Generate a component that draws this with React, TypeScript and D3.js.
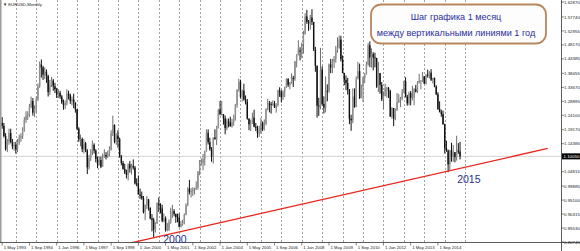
import React from "react";
import * as d3 from "d3";

// ---- DATA (EURUSD, Monthly, May 1993 .. Oct 2015) ----
const startYear = 1993;
const startMonth = 4; // May (0-based)
const firstOpen = 1.215;

const closes = [
  // 1993 May-Dec
  1.205, 1.170, 1.125, 1.150, 1.180, 1.150, 1.135, 1.140,
  // 1994
  1.125, 1.150, 1.165, 1.170, 1.190, 1.225, 1.240, 1.245, 1.270, 1.290, 1.250, 1.262,
  // 1995
  1.295, 1.340, 1.415, 1.405, 1.380, 1.390, 1.375, 1.320, 1.345, 1.360, 1.340, 1.330,
  // 1996
  1.310, 1.318, 1.305, 1.285, 1.275, 1.282, 1.315, 1.310, 1.290, 1.295, 1.285, 1.262,
  // 1997
  1.195, 1.158, 1.160, 1.125, 1.145, 1.120, 1.063, 1.095, 1.117, 1.140, 1.120, 1.092,
  // 1998
  1.075, 1.088, 1.065, 1.098, 1.105, 1.100, 1.108, 1.125, 1.180, 1.208, 1.150, 1.172,
  // 1999
  1.160, 1.100, 1.078, 1.058, 1.045, 1.037, 1.073, 1.059, 1.068, 1.062, 1.008, 1.007,
  // 2000
  0.970, 0.965, 0.957, 0.910, 0.934, 0.953, 0.925, 0.888, 0.883, 0.850, 0.870, 0.940,
  // 2001
  0.935, 0.922, 0.880, 0.888, 0.848, 0.850, 0.875, 0.911, 0.913, 0.903, 0.893, 0.890,
  // 2002
  0.860, 0.869, 0.872, 0.901, 0.933, 0.990, 0.978, 0.982, 0.988, 0.988, 0.993, 1.049,
  // 2003
  1.077, 1.078, 1.091, 1.117, 1.181, 1.149, 1.125, 1.099, 1.165, 1.160, 1.199, 1.260,
  // 2004
  1.245, 1.245, 1.230, 1.197, 1.220, 1.217, 1.203, 1.217, 1.242, 1.276, 1.329, 1.356,
  // 2005
  1.304, 1.325, 1.295, 1.287, 1.230, 1.210, 1.213, 1.233, 1.202, 1.198, 1.179, 1.184,
  // 2006
  1.216, 1.193, 1.212, 1.262, 1.281, 1.279, 1.277, 1.281, 1.268, 1.276, 1.325, 1.320,
  // 2007
  1.303, 1.323, 1.336, 1.365, 1.345, 1.354, 1.369, 1.365, 1.426, 1.449, 1.463, 1.459,
  // 2008
  1.485, 1.518, 1.579, 1.561, 1.555, 1.575, 1.560, 1.467, 1.410, 1.274, 1.271, 1.397,
  // 2009
  1.280, 1.267, 1.325, 1.324, 1.415, 1.405, 1.425, 1.434, 1.464, 1.472, 1.500, 1.433,
  // 2010
  1.386, 1.362, 1.351, 1.329, 1.229, 1.224, 1.305, 1.269, 1.364, 1.392, 1.300, 1.339,
  // 2011
  1.369, 1.380, 1.416, 1.480, 1.439, 1.450, 1.439, 1.437, 1.339, 1.386, 1.345, 1.296,
  // 2012
  1.308, 1.334, 1.334, 1.324, 1.237, 1.266, 1.230, 1.258, 1.286, 1.296, 1.299, 1.319,
  // 2013
  1.358, 1.305, 1.282, 1.317, 1.300, 1.301, 1.330, 1.322, 1.352, 1.359, 1.359, 1.375,
  // 2014
  1.349, 1.380, 1.377, 1.387, 1.363, 1.369, 1.339, 1.313, 1.263, 1.252, 1.245, 1.210,
  // 2015 Jan-Oct
  1.129, 1.120, 1.073, 1.122, 1.099, 1.115, 1.098, 1.121, 1.117, 1.1005,
];

const highs = [
  1.235, 1.215, 1.180, 1.160, 1.195, 1.195, 1.160, 1.150,
  1.150, 1.160, 1.175, 1.180, 1.200, 1.235, 1.255, 1.255, 1.280, 1.305, 1.300, 1.275,
  1.305, 1.350, 1.425, 1.432, 1.410, 1.405, 1.398, 1.380, 1.362, 1.372, 1.365, 1.352,
  1.335, 1.330, 1.325, 1.310, 1.295, 1.292, 1.330, 1.325, 1.315, 1.305, 1.315, 1.285,
  1.262, 1.200, 1.175, 1.165, 1.160, 1.150, 1.125, 1.105, 1.125, 1.155, 1.145, 1.125,
  1.100, 1.100, 1.100, 1.110, 1.125, 1.115, 1.120, 1.135, 1.190, 1.240, 1.210, 1.180,
  1.190, 1.165, 1.105, 1.085, 1.075, 1.055, 1.076, 1.085, 1.075, 1.090, 1.068, 1.025,
  1.035, 0.990, 0.980, 0.965, 0.936, 0.965, 0.955, 0.925, 0.903, 0.890, 0.875, 0.943,
  0.960, 0.940, 0.935, 0.905, 0.895, 0.873, 0.885, 0.925, 0.935, 0.920, 0.905, 0.905,
  0.905, 0.880, 0.884, 0.905, 0.940, 0.995, 1.020, 0.992, 0.995, 0.993, 1.015, 1.050,
  1.088, 1.094, 1.109, 1.120, 1.193, 1.193, 1.164, 1.132, 1.165, 1.193, 1.205, 1.263,
  1.290, 1.290, 1.245, 1.240, 1.230, 1.230, 1.236, 1.229, 1.243, 1.280, 1.330, 1.366,
  1.363, 1.329, 1.349, 1.309, 1.297, 1.230, 1.226, 1.250, 1.260, 1.215, 1.205, 1.205,
  1.232, 1.220, 1.227, 1.265, 1.297, 1.290, 1.287, 1.292, 1.290, 1.282, 1.329, 1.337,
  1.328, 1.326, 1.339, 1.368, 1.368, 1.355, 1.385, 1.376, 1.427, 1.450, 1.498, 1.474,
  1.490, 1.530, 1.590, 1.602, 1.567, 1.585, 1.604, 1.561, 1.475, 1.412, 1.301, 1.472,
  1.409, 1.306, 1.374, 1.347, 1.418, 1.434, 1.434, 1.444, 1.478, 1.508, 1.514, 1.513,
  1.446, 1.386, 1.377, 1.369, 1.331, 1.243, 1.333, 1.333, 1.374, 1.424, 1.418, 1.346,
  1.374, 1.386, 1.425, 1.488, 1.494, 1.470, 1.457, 1.455, 1.438, 1.424, 1.384, 1.355,
  1.323, 1.349, 1.339, 1.338, 1.328, 1.269, 1.240, 1.264, 1.317, 1.314, 1.304, 1.331,
  1.359, 1.371, 1.311, 1.322, 1.324, 1.342, 1.334, 1.345, 1.358, 1.383, 1.362, 1.389,
  1.374, 1.382, 1.397, 1.392, 1.399, 1.369, 1.370, 1.344, 1.320, 1.289, 1.260, 1.257,
  1.212, 1.154, 1.124, 1.122, 1.147, 1.139, 1.115, 1.171, 1.146, 1.150,
];

const lows = [
  1.195, 1.165, 1.120, 1.115, 1.140, 1.145, 1.125, 1.120,
  1.110, 1.115, 1.140, 1.150, 1.160, 1.185, 1.215, 1.225, 1.235, 1.265, 1.240, 1.235,
  1.250, 1.290, 1.335, 1.370, 1.362, 1.365, 1.352, 1.305, 1.310, 1.338, 1.325, 1.317,
  1.300, 1.300, 1.298, 1.280, 1.260, 1.262, 1.275, 1.295, 1.280, 1.275, 1.265, 1.250,
  1.190, 1.150, 1.135, 1.115, 1.110, 1.115, 1.040, 1.055, 1.085, 1.105, 1.110, 1.080,
  1.060, 1.070, 1.060, 1.065, 1.095, 1.090, 1.095, 1.100, 1.120, 1.170, 1.145, 1.140,
  1.130, 1.096, 1.070, 1.055, 1.040, 1.025, 1.018, 1.045, 1.038, 1.055, 1.004, 0.998,
  0.970, 0.955, 0.952, 0.905, 0.882, 0.920, 0.915, 0.885, 0.844, 0.823, 0.840, 0.870,
  0.910, 0.905, 0.875, 0.875, 0.843, 0.844, 0.845, 0.870, 0.890, 0.895, 0.873, 0.875,
  0.857, 0.857, 0.863, 0.868, 0.899, 0.930, 0.970, 0.960, 0.965, 0.970, 0.985, 0.987,
  1.036, 1.069, 1.053, 1.069, 1.117, 1.141, 1.120, 1.082, 1.076, 1.157, 1.139, 1.196,
  1.241, 1.240, 1.209, 1.176, 1.190, 1.200, 1.203, 1.199, 1.205, 1.223, 1.267, 1.322,
  1.298, 1.288, 1.291, 1.278, 1.226, 1.190, 1.187, 1.211, 1.200, 1.187, 1.164, 1.167,
  1.178, 1.187, 1.189, 1.207, 1.258, 1.251, 1.247, 1.273, 1.266, 1.250, 1.271, 1.304,
  1.285, 1.293, 1.303, 1.335, 1.338, 1.330, 1.349, 1.338, 1.359, 1.405, 1.446, 1.429,
  1.436, 1.452, 1.518, 1.554, 1.530, 1.534, 1.550, 1.461, 1.390, 1.233, 1.239, 1.262,
  1.274, 1.247, 1.251, 1.289, 1.318, 1.385, 1.385, 1.403, 1.421, 1.455, 1.469, 1.425,
  1.385, 1.344, 1.327, 1.312, 1.211, 1.188, 1.214, 1.267, 1.269, 1.368, 1.297, 1.300,
  1.286, 1.351, 1.383, 1.411, 1.406, 1.404, 1.395, 1.405, 1.335, 1.321, 1.315, 1.290,
  1.262, 1.306, 1.302, 1.300, 1.235, 1.229, 1.204, 1.224, 1.257, 1.283, 1.269, 1.292,
  1.317, 1.302, 1.274, 1.275, 1.275, 1.292, 1.275, 1.319, 1.317, 1.350, 1.330, 1.355,
  1.348, 1.346, 1.370, 1.367, 1.358, 1.350, 1.337, 1.310, 1.259, 1.251, 1.236, 1.209,
  1.110, 1.116, 1.046, 1.052, 1.082, 1.082, 1.080, 1.086, 1.109, 1.090,
];

const priceLabels = [
  "1.62870", "1.57740", "1.52955", "1.48170", "1.43385", "1.38455", "1.33670", "1.28885",
  "1.24100", "1.19170", "1.14385", "1.04815", "0.99885", "0.95100", "0.90315", "0.85530", "0.80745",
];

const timeLabels = [
  "1 May 1993", "1 Sep 1994", "1 Jan 1996", "1 May 1997", "1 Sep 1998", "1 Jan 2000",
  "1 May 2001", "1 Sep 2002", "1 Jan 2004", "1 May 2005", "1 Sep 2006", "1 Jan 2008",
  "1 May 2009", "1 Sep 2010", "1 Jan 2012", "1 May 2013", "1 Sep 2014",
];
const timeLabelStep = 16; // months between time labels

const separatorYears = d3.range(1994, 2017);

const symbolTitle = "▼ EURUSD,Monthly";
const currentPrice = 1.1005;
const currentPriceLabel = "1.10050";

// trend line anchors: [month index from May 1993, price]
const trendLine: [number, number][] = [
  [70, 0.797],
  [320.5, 1.1275],
];

const yearNotes = [
  { text: "2000", m: 94.6, p: 0.8045 },
  { text: "2015", m: 267.3, p: 1.0093 },
];

const noteLines = ["Шаг графика 1 месяц", "между вертикальными линиями 1 год"];

// ---- LAYOUT ----
const W = 580;
const H = 251;
const plotRight = 561.5;
const plotBottom = 242.5;
const monthPx = 1.702;
const x0 = 2.2;

export default function App() {
  const x = d3.scaleLinear().domain([0, 1]).range([x0, x0 + monthPx]);
  const y = d3
    .scaleLinear()
    .domain([0.80745, 1.6287])
    .range([242, 2]);

  const candles = closes.map((c, i) => {
    const o = i === 0 ? firstOpen : closes[i - 1];
    return { i, o, h: highs[i], l: lows[i], c };
  });

  const monthIndex = (year: number, month: number) =>
    (year - startYear) * 12 + (month - startMonth);

  const line = d3
    .line<[number, number]>()
    .x((d) => x(d[0]))
    .y((d) => y(d[1]));

  const fontAxis = "'Liberation Sans', Arial, sans-serif";

  return (
    <div style={{ position: "fixed", left: 0, top: 0, width: W, height: H }}>
      <svg width={W} height={H} style={{ display: "block", background: "#fff" }}>
        <defs>
          <clipPath id="plot">
            <rect x={0} y={0} width={plotRight} height={plotBottom} />
          </clipPath>
        </defs>
        <rect x={0} y={0} width={W} height={H} fill="#fff" />

        {/* year separators */}
        {separatorYears.map((yr) => {
          const xx = Math.round(x(monthIndex(yr, 0))) + 0.5;
          return (
            <line
              key={yr}
              x1={xx}
              x2={xx}
              y1={0}
              y2={plotBottom}
              stroke="#8a8a8a"
              strokeWidth={0.8}
              strokeDasharray="2,2"
            />
          );
        })}

        {/* bid line */}
        <line
          x1={0}
          x2={plotRight}
          y1={y(currentPrice)}
          y2={y(currentPrice)}
          stroke="#c8c8c8"
          strokeWidth={0.8}
        />

        {/* candles */}
        <g clipPath="url(#plot)">
          {candles.map((d) => {
            const cx = x(d.i);
            const bull = d.c >= d.o;
            const top = y(Math.max(d.o, d.c));
            const bot = y(Math.min(d.o, d.c));
            const col = bull ? "#6e6e6e" : "#111";
            return (
              <g key={d.i}>
                <line x1={cx} x2={cx} y1={y(d.h)} y2={y(d.l)} stroke={col} strokeWidth={1} />
                <rect
                  x={cx - 0.7}
                  y={top}
                  width={1.4}
                  height={Math.max(0.8, bot - top)}
                  fill={bull ? "#8f8f8f" : "#111"}
                />
              </g>
            );
          })}
          {/* trend line */}
          <path d={line(trendLine) || ""} stroke="#e8261e" strokeWidth={1.3} fill="none" />
        </g>

        {/* left frame strip */}
        <rect x={0} y={0} width={1.5} height={plotBottom} fill="#9c9c9c" />

        {/* axes */}
        <line x1={plotRight} x2={plotRight} y1={0} y2={H} stroke="#333" strokeWidth={0.8} />
        <line x1={0} x2={W} y1={plotBottom} y2={plotBottom} stroke="#333" strokeWidth={0.8} />

        {priceLabels.map((lbl) => {
          const yy = y(parseFloat(lbl));
          return (
            <g key={lbl}>
              <line x1={plotRight} x2={plotRight + 2.5} y1={yy} y2={yy} stroke="#333" strokeWidth={0.6} />
              <text x={564} y={yy} dy="0.35em" fontSize={4.4} fontFamily={fontAxis} fill="#222">
                {lbl}
              </text>
            </g>
          );
        })}

        {/* current price box */}
        <rect x={562} y={y(currentPrice) - 3} width={18} height={6} fill="#000" />
        <text
          x={563.5}
          y={y(currentPrice)}
          dy="0.35em"
          fontSize={4.4}
          fontFamily={fontAxis}
          fill="#fff"
        >
          {currentPriceLabel}
        </text>

        {timeLabels.map((lbl, k) => {
          const xx = x(k * timeLabelStep);
          return (
            <g key={lbl}>
              <line x1={xx} x2={xx} y1={plotBottom} y2={plotBottom + 3} stroke="#333" strokeWidth={0.6} />
              <text x={xx + 1.5} y={248.6} fontSize={4.3} fontFamily={fontAxis} fill="#222">
                {lbl}
              </text>
            </g>
          );
        })}

        {/* symbol title */}
        <text x={3} y={5.5} fontSize={4.2} fontFamily={fontAxis} fill="#222">
          {symbolTitle}
        </text>

        {/* year notes */}
        {yearNotes.map((nte) => (
          <text
            key={nte.text}
            x={x(nte.m)}
            y={y(nte.p)}
            fontSize={10.5}
            fontFamily={fontAxis}
            fill="#26308f"
          >
            {nte.text}
          </text>
        ))}

        {/* note box */}
        <rect
          x={371}
          y={4.5}
          width={175}
          height={39}
          rx={10}
          ry={10}
          fill="#fdfdfd"
          stroke="#b9875e"
          strokeWidth={1.8}
        />
        {noteLines.map((t, k) => (
          <text
            key={t}
            x={456}
            y={20.3 + k * 16}
            textAnchor="middle"
            fontSize={9.1}
            fontFamily={fontAxis}
            fill="#2b2f9e"
          >
            {t}
          </text>
        ))}
      </svg>
    </div>
  );
}
